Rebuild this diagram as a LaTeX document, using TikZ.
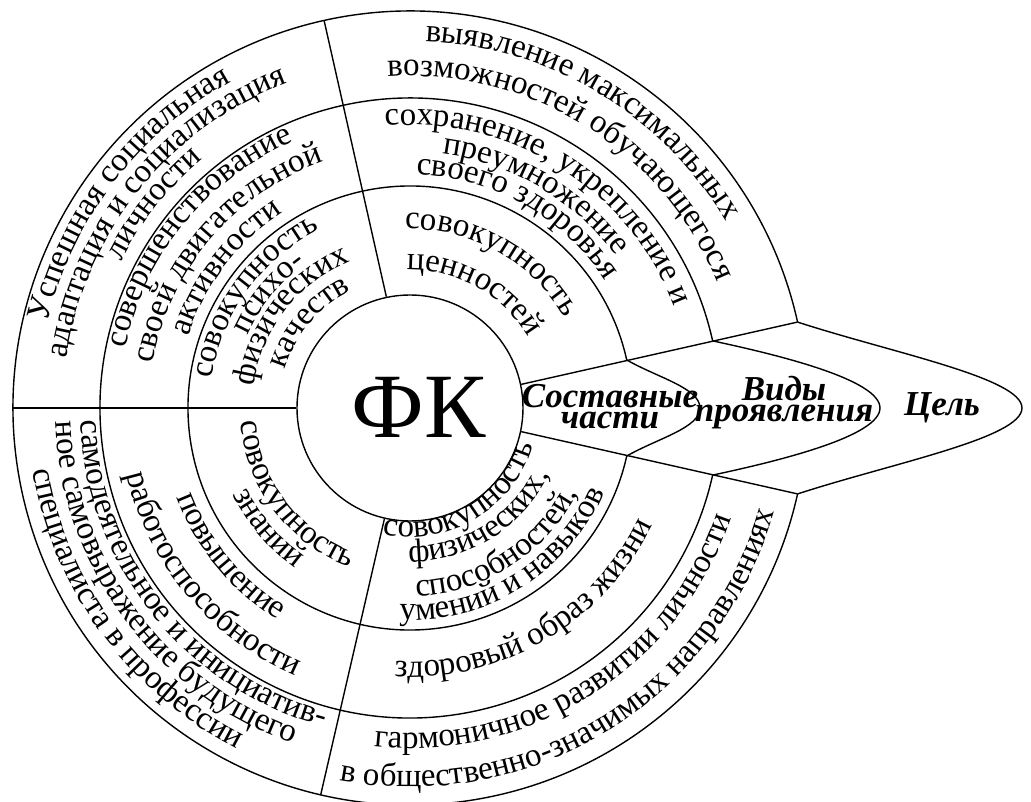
\documentclass[tikz,border=0pt]{standalone}
\usepackage{fontspec}
\setmainfont{Liberation Serif}
\usetikzlibrary{decorations.text}
\newcommand\ringfont{\fontsize{33}{33}\selectfont}
\newcommand\cwtext[3]{%
  \path[decorate,decoration={text along path,text align=center,text={|\ringfont|#3}}]
    ({#1+85}:#2) arc[start angle={#1+85},end angle={#1-85},radius=#2];}
\newcommand\ccwtext[3]{%
  \path[decorate,decoration={text along path,text align=center,text={|\ringfont|#3}}]
    ({#1-85}:#2) arc[start angle={#1-85},end angle={#1+85},radius=#2];}
\tikzset{
  ring/.style={line width=1.4pt},
  lenstext/.style={align=center,font=\fontsize{35}{21}\selectfont\bfseries\itshape,inner sep=0pt}
}
\begin{document}
\begin{tikzpicture}[x=1pt,y=1pt]
\useasboundingbox (-410,-394) rectangle (621,408);
% centre
\node[draw,circle,ring,minimum size=226pt,inner sep=0pt] (fk) at (0,0) {};
\node[font=\fontsize{92}{92}\selectfont,inner sep=0pt] (fkt) at (9,1) {ФК};
% rings
\draw[ring] (12.5:222) arc[start angle=12.5,end angle=347.5,radius=222];
\draw[ring] (12.5:310) arc[start angle=12.5,end angle=347.5,radius=310];
\draw[ring] (12.5:397) arc[start angle=12.5,end angle=347.5,radius=397];
\coordinate (u2) at (12.5:222); \coordinate (u3) at (12.5:310); \coordinate (u4) at (12.5:397);
\coordinate (l2) at (-12.5:222); \coordinate (l3) at (-12.5:310); \coordinate (l4) at (-12.5:397);
% radial lines
\draw[ring] (fk.12.5) -- (u4);
\draw[ring] (fk.-12.5) -- (l4);
\draw[ring] (fk.102.5) -- (102.5:397);
\draw[ring] (fk.180) -- (180:397);
\draw[ring] (fk.257) -- (257:397);
% lenses
\coordinate (tip1) at (290,0);
\coordinate (tip2) at (470,0);
\coordinate (tip3) at (612,0);
\draw[ring] (u2) .. controls (247,30.6) and (290,20) .. (tip1) .. controls (290,-20) and (247,-30.6) .. (l2);
\draw[ring] (u3) .. controls (371,52.5) and (470,28) .. (tip2) .. controls (470,-28) and (371,-52.5) .. (l3);
\draw[ring] (u4) .. controls (482.7,55) and (612,30) .. (tip3) .. controls (612,-30) and (482.7,-55) .. (l4);
\node[lenstext] (sc) at (200,1) {Составные\\части};
\node[lenstext] (vp) at (374,5) {Виды\\проявления};
\node[lenstext] (cel) at (532,0) {Цель};
% upper-left
\cwtext{142.7}{372}{Успешная социальная}
\cwtext{141.2}{347}{адаптация и социализация}
\cwtext{141.4}{324}{личности}
\cwtext{140.9}{291}{совершенствование}
\cwtext{139.7}{261}{своей двигательной}
\cwtext{142.6}{233}{активности}
\cwtext{144.2}{200}{совокупность}
\cwtext{140.9}{178}{психо-}
\cwtext{142.3}{158}{физических}
\cwtext{139.8}{131}{качеств}
% upper-right
\cwtext{59.1}{367}{выявление максимальных}
\cwtext{58.1}{332}{возможностей обучающегося}
\cwtext{58}{283}{сохранение, укрепление и}
\cwtext{59.5}{256}{преумножение}
\cwtext{60.8}{233}{своего здоровья}
\cwtext{60.9}{179}{совокупность}
\cwtext{61.2}{138}{ценностей}
% lower-right
\ccwtext{300.4}{129}{совокупность}
\ccwtext{302}{154}{физических,}
\ccwtext{302.4}{188}{способностей,}
\ccwtext{301.9}{212}{умений и навыков}
\ccwtext{300.5}{269}{здоровый образ жизни}
\ccwtext{302.5}{340}{гармоничное развитии личности}
\ccwtext{301.7}{379}{в общественно-значимых направлениях}
% lower-left
\ccwtext{216.9}{170}{совокупность}
\ccwtext{220.2}{197}{знаний}
\ccwtext{219.4}{250}{повышение}
\ccwtext{220}{291}{работоспособности}
\ccwtext{218.5}{330}{самодеятельное и инициатив-}
\ccwtext{216.5}{355}{ное самовыражение будущего}
\ccwtext{216.2}{382}{специалиста в профессии}
\end{tikzpicture}
\end{document}
